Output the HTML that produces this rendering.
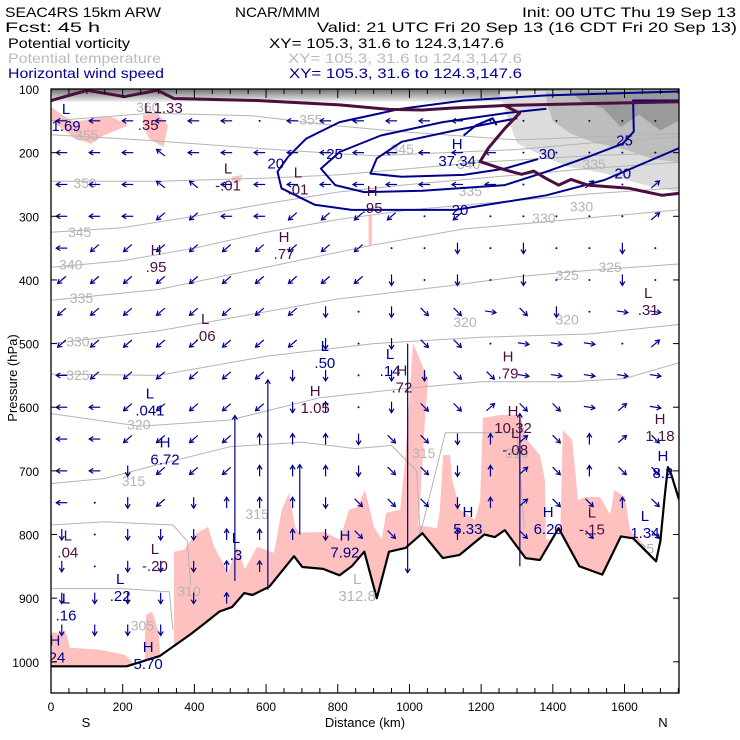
<!DOCTYPE html>
<html><head><meta charset="utf-8">
<style>
html,body{margin:0;padding:0;background:#fff;}
svg{display:block;font-family:"Liberation Sans",sans-serif;}
</style></head>
<body>
<svg id="chart" width="740" height="740" viewBox="0 0 740 740" xmlns="http://www.w3.org/2000/svg">
<rect x="0" y="0" width="740" height="740" fill="#fff"/>
<g font-size="14">
<text x="5" y="17" textLength="156" lengthAdjust="spacingAndGlyphs">SEAC4RS 15km ARW</text>
<text x="235" y="17" textLength="85" lengthAdjust="spacingAndGlyphs">NCAR/MMM</text>
<text x="522" y="17" textLength="214" lengthAdjust="spacingAndGlyphs">Init: 00 UTC Thu 19 Sep 13</text>
<text x="5" y="32" textLength="95" lengthAdjust="spacingAndGlyphs">Fcst:   45 h</text>
<text x="317" y="32" textLength="420" lengthAdjust="spacingAndGlyphs">Valid: 21 UTC Fri 20 Sep 13 (16 CDT Fri 20 Sep 13)</text>
<text x="8" y="48" textLength="122" lengthAdjust="spacingAndGlyphs">Potential vorticity</text>
<text x="269" y="48" textLength="235" lengthAdjust="spacingAndGlyphs">XY= 105.3, 31.6 to 124.3,147.6</text>
<text x="8" y="63" fill="#bbbbbb" textLength="153" lengthAdjust="spacingAndGlyphs">Potential temperature</text>
<text x="288" y="63" fill="#bbbbbb" textLength="234" lengthAdjust="spacingAndGlyphs">XY= 105.3, 31.6 to 124.3,147.6</text>
<text x="8" y="78" fill="#000090" textLength="156" lengthAdjust="spacingAndGlyphs">Horizontal wind speed</text>
<text x="289" y="78" fill="#000090" textLength="233" lengthAdjust="spacingAndGlyphs">XY= 105.3, 31.6 to 124.3,147.6</text>
</g>
<g id="plot"></g>
</svg>
<script>
// ---------- data ----------
const terrKm=[0,211,303,389,430,470,505,539,562,609,678,701,759,805,839,874,909,943,989,1036,1093,1140,1209,1238,1266,1324,1364,1416,1474,1538,1590,1624,1688,1700,1712,1721,1730,1752];
const terrP=[1007,1007,991,957,939,921,914,892,895,882,834,851,854,864,850,827,900,827,821,798,837,832,800,804,793,837,840,790,850,863,803,806,842,810,740,694,705,745];

const pinkLow1=[[0,954],[42,954],[53,978],[137,981],[206,989],[226,1000],[226,1049],[0,1049]];
const pinkLow2=[[262,965],[265,926],[282,921],[299,950],[304,981],[304,1049],[262,1049]];
const pinkLow3=[[343,965],[343,827],[371,824],[402,800],[438,788],[455,819],[494,860],[519,819],[541,855],[575,819],[622,829],[644,761],[664,735],[681,788],[692,797],[762,796],[806,808],[831,761],[854,757],[876,730],[901,788],[923,808],[935,766],[974,761],[988,683],[1010,499],[1035,533],[1052,557],[1043,620],[1030,746],[1024,785],[1077,790],[1085,761],[1094,675],[1113,675],[1119,714],[1141,761],[1183,777],[1197,746],[1205,617],[1253,612],[1309,612],[1328,651],[1364,675],[1378,714],[1381,808],[1420,808],[1428,636],[1454,651],[1462,698],[1470,746],[1490,741],[1532,741],[1560,769],[1571,730],[1601,741],[1615,793],[1643,808],[1671,832],[1699,871],[1699,1049],[343,1049]];
const pinkUp1=[[0,128],[32,141],[66,152],[135,144],[170,144],[216,157],[147,173],[112,186],[66,178],[26,160],[0,150]];
const pinkUp2=[[257,141],[297,138],[326,157],[314,191],[274,178],[257,157]];
const pinkUp3=[[886,298],[895,298],[895,345],[886,345]];
const pinkUp4=[[505,238],[534,235],[528,246],[505,246]];

const grayOuter=[[1250,104],[1752,100],[1752,262],[1650,250],[1540,232],[1440,222],[1370,205],[1300,185],[1270,140]];
const grayMid=[[1380,104],[1752,100],[1752,215],[1680,210],[1600,195],[1520,185],[1450,170],[1400,150],[1385,125]];
const grayDark=[[1450,104],[1752,100],[1752,150],[1700,165],[1640,140],[1590,160],[1540,130],[1480,120]];

const pvTop=[[0,118],[101,102],[205,112],[297,102],[343,115],[574,118],[805,125],[943,132],[1036,133],[1116,130],[1266,126],[1497,123],[1752,120]];
const pvBranch=[[1266,126],[1307,138],[1266,162],[1220,193],[1197,214],[1266,227],[1313,234],[1347,229],[1382,241],[1416,251],[1451,242],[1497,251],[1613,256],[1705,267],[1752,264]];

const wind20=[[1752,104],[1382,110],[1151,118],[978,131],[805,152],[712,178],[661,207],[632,230],[643,256],[736,282],[839,290],[1128,290],[1382,267],[1544,243],[1752,193]];
const wind25=[[1752,118],[1624,118],[1626,167],[1595,186],[1497,207],[1382,230],[1266,251],[1036,260],[874,262],[793,251],[753,225],[805,199],[920,173],[1093,152],[1266,138],[1382,131]];
const wind30=[[1359,210],[1266,225],[1151,235],[978,238],[891,233],[909,209],[978,183],[1128,165],[1243,152],[1301,146]];
const wind35=[[1151,173],[1186,157],[1232,146],[1243,157]];
const windLabels=[["20",627,217],["25",791,202],["30",1384,202],["25",1600,181],["20",1595,233],["20",1141,290]];

const thetaLevels=[360,355,350,345,340,335,330,325,320,315,310,305];
const thetaPaths=[
 [[0,150],[280,138],[560,142],[800,158],[1000,168],[1300,180],[1752,170]],
 [[0,172],[250,180],[500,190],[700,198],[900,205],[1100,200],[1300,195],[1500,185],[1752,175]],
 [[0,245],[300,245],[600,240],[800,235],[1000,225],[1200,215],[1500,205],[1752,200]],
 [[0,325],[200,318],[400,300],[600,280],[800,262],[1000,250],[1200,240],[1500,225],[1752,215]],
 [[0,380],[200,370],[400,350],[600,325],[800,305],[1000,290],[1200,280],[1500,265],[1752,255]],
 [[0,432],[300,415],[600,380],[900,345],[1150,320],[1350,310],[1550,300],[1752,290]],
 [[0,500],[300,480],[500,460],[800,430],[1100,410],[1300,395],[1500,385],[1752,375]],
 [[0,548],[300,550],[600,520],[900,500],[1200,490],[1500,485],[1752,470]],
 [[0,610],[250,630],[500,620],[750,585],[1000,570],[1200,560],[1450,560],[1600,555],[1752,530]],
 [[0,720],[150,712],[300,690],[500,662],[700,655],[850,665],[950,660],[1020,700],[1030,800],[1100,640],[1300,640],[1320,790]],
 [[0,785],[150,780],[340,785],[380,810],[390,880]],
 [[0,885],[200,885],[330,890],[340,950]]
];
const thetaLabels=[["360",270,128],["355",100,172],["350",95,248],["345",80,325],["340",55,376],["335",85,428],["330",75,497],["325",75,549],["320",245,627],["315",230,716],["310",385,889],["305",255,943],["355",725,148],["345",980,194],["340",1165,218],["335",1170,260],["335",1515,218],["330",1375,303],["330",1480,285],["325",1440,392],["325",1560,380],["320",1155,466],["320",1440,462],["315",1040,672],["315",1300,672],["315",575,768],["305",1650,822]];

const arrowKm=[30,122,214,306,398,490,582,674,766,858,950,1042,1134,1226,1318,1410,1502,1594,1686];
const arrowRowP=[150,200,250,300,350,400,450,500,550,600,650,700,750,800,850,900,950];
const arrowRows=[
 "aaaaaa.aaaaaa......",
 "aaahaaaaaaaaaa.....",
 "aaahhaaaaaaaaa..f.f",
 "aaabbaabbbb.b.....f",
 "abbbbbbbbb..c.c..c.",
 "bbbbbbbbbbc.c.c..c.",
 "bbbbbbbbc.cddedc.ee",
 "bbbbbbbbc.cdd.eee.f",
 "abbbbbbcc.ccddeeeee",
 "aabbbbbcg.cddfddefe",
 "aabbbbgggcddcgfdgfd",
 "aacbbbgggcddcgfdgdd",
 "a.cbcgggcdddcgfddgd",
 "c.cccgggcdddgfdddcd",
 "c.cccggggcdcgfdcdcd",
 "cccccgg............",
 "ccccc.............."
];
const longKm=[513,605,694,995,1308];
const longTopP=[613,557,690,500,610];
const longBotP=[873,887,800,860,850];
const longDir=["up","up","up","down","up"];

const hlLetter=["L","L","L","L","H","H","H","H","L","L","L","L","H","H","H","L","H","H","L","H","H","L","L","L","H","H","H","L","L","L","L","H","H","L"];
const hlValue=["1.69",".35","-.01",".01",".95",".77",".95","37.34",".31",".06",".50",".14",".72",".79","1.05",".041","6.72","10.32","-.08","1.18","8.2",".04","-.20",".3","7.92","5.33","6.20","-.15","1.34",".22",".16","5.70",".24","312.8"];
const hlKm=[42,271,494,689,896,650,293,1133,1666,430,764,946,979,1275,737,276,318,1289,1295,1699,1707,47,290,516,820,1163,1387,1509,1657,193,42,271,11,854];
const hlP=[130,128,223,230,259,331,351,185,419,460,502,515,541,519,573,577,654,604,639,617,675,800,821,804,800,763,763,764,769,868,899,975,965,868];
const hlColor=["n","p","p","p","p","p","p","n","p","p","n","n","p","p","p","n","n","p","p","p","n","p","p","n","n","n","n","p","n","n","n","n","n","g"];

const xTicks=[0,200,400,600,800,1000,1200,1400,1600];
const yTicks=[100,200,300,400,500,600,700,800,900,1000];

// ---------- scales ----------
const X0=51,X1=679,Y0=89,Y1=693;
const KMAX=1752,PMAX=1049;
function X(km){return X0+km*(X1-X0)/KMAX;}
function Y(p){return Y0+(p-100)*(Y1-Y0)/(PMAX-100);}
function terrainAt(km){for(let i=0;i<terrKm.length-1;i++){if(km>=terrKm[i]&&km<=terrKm[i+1]){const t=(km-terrKm[i])/(terrKm[i+1]-terrKm[i]);return terrP[i]+t*(terrP[i+1]-terrP[i]);}}return terrP[terrP.length-1];}

const NS="http://www.w3.org/2000/svg";
const plot=document.getElementById('plot');
function mk(tag,attrs,parent){const e=document.createElementNS(NS,tag);for(const k in attrs)e.setAttribute(k,attrs[k]);(parent||plot).appendChild(e);return e;}
function pts(arr){return arr.map(q=>X(q[0]).toFixed(1)+","+Y(q[1]).toFixed(1)).join(" ");}
function clipGroup(){return mk('g',{'clip-path':'url(#plotclip)'});}

const defs=mk('defs',{});
const cp=mk('clipPath',{id:'plotclip'},defs);
mk('rect',{x:X0,y:Y0,width:X1-X0,height:Y1-Y0},cp);
const lg=mk('linearGradient',{id:'topband',x1:0,y1:0,x2:0,y2:1},defs);
mk('stop',{offset:'0','stop-color':'#6e6e6e'},lg);
mk('stop',{offset:'0.5','stop-color':'#b0b0b0'},lg);
mk('stop',{offset:'1','stop-color':'#eeeeee'},lg);

const g=clipGroup();
// shading
let e=mk('rect',{x:X0,y:Y(100),width:X1-X0,height:Y(120)-Y(100),fill:'url(#topband)'},g);


[[grayOuter,'#dcdcdc'],[grayMid,'#bdbdbd'],[grayDark,'#9a9a9a']].forEach(a=>{
 const s=mk('polygon',{points:pts(a[0]),fill:a[1]},g);
 
 
});
// pink
[pinkLow1,pinkLow2,pinkLow3,pinkUp1,pinkUp2,pinkUp3,pinkUp4].forEach(a=>{
 const s=mk('polygon',{points:pts(a),fill:'#ffc0c0'},g);
 
 
});
// isentropes
thetaPaths.forEach((a,i)=>{
 const s=mk('polyline',{points:pts(a),fill:'none',stroke:'#b4b4b4','stroke-width':1},g);
 
 
});
thetaLabels.forEach(l=>{
 const t=mk('text',{x:X(l[1]),y:Y(l[2])+5,'font-size':14,fill:'#b4b4b4','text-anchor':'middle'},g);
 t.textContent=l[0];
 
 
});
// underground mask
const maskPts=terrKm.map((k,i)=>[k,terrP[i]]).concat([[KMAX,PMAX],[0,PMAX]]);
e=mk('polygon',{points:pts(maskPts),fill:'#fff'},g);



// arrows
const dirs={a:[-1,0],b:[-0.75,0.65],c:[0,1],d:[0.7,0.7],e:[1,0.15],f:[0.75,-0.65],g:[0,-1],h:[-0.75,-0.6]};
const ag=mk('g',{stroke:'#000090',fill:'none','stroke-width':1.2},g);


function arrow(x1,y1,x2,y2){
 const l=mk('line',{x1:x1,y1:y1,x2:x2,y2:y2},ag);
 
 
 const dx=x2-x1,dy=y2-y1,L=Math.hypot(dx,dy)||1,ux=dx/L,uy=dy/L;
 const hx=x2-ux*4,hy=y2-uy*4;
 mk('polyline',{points:(hx-uy*2.5)+","+(hy+ux*2.5)+" "+x2+","+y2+" "+(hx+uy*2.5)+","+(hy-ux*2.5)},ag);
}
arrowRows.forEach((row,r)=>{
 const p=arrowRowP[r];
 for(let i=0;i<row.length;i++){
  const c=row[i],km=arrowKm[i];
  if(p>terrainAt(km)-10)continue;
  const cx=X(km),cy=Y(p);
  if(c==='.'){const d=mk('circle',{cx:cx,cy:cy,r:1,fill:'#000090',stroke:'none'},ag);continue;}
  const v=dirs[c],len=11;
  arrow(cx-v[0]*len/2,cy-v[1]*len/2,cx+v[0]*len/2,cy+v[1]*len/2);
 }
});
longKm.forEach((k,i)=>{
 const x=X(k),yt=Y(longTopP[i]),yb=Y(longBotP[i]);
 if(longDir[i]==='up')arrow(x,yb,x,yt);else arrow(x,yt,x,yb);
});

// wind contours
[wind20,wind25,wind30,wind35].forEach((a,i)=>{
 const s=mk('polyline',{points:pts(a),fill:'none',stroke:'#000090','stroke-width':2,'stroke-linejoin':'round'},g);
 
 
});
windLabels.forEach(l=>{
 const t=mk('text',{x:X(l[1]),y:Y(l[2])+5,'font-size':15,fill:'#000090','text-anchor':'middle'},g);
 t.textContent=l[0];
 
 
});
// PV lines
[pvTop,pvBranch].forEach(a=>{
 const s=mk('polyline',{points:pts(a),fill:'none',stroke:'#4a0f40','stroke-width':3,'stroke-linejoin':'round'},g);
 
 
});
// terrain line
e=mk('polyline',{points:pts(terrKm.map((k,i)=>[k,terrP[i]])),fill:'none',stroke:'#000','stroke-width':2.2,'stroke-linejoin':'round'},g);



// H/L labels
const cols={n:'#000090',p:'#4a0f40',g:'#b4b4b4'};
hlLetter.forEach((L,i)=>{
 const x=X(hlKm[i]),y=Y(hlP[i]);
 const t1=mk('text',{x:x,y:y+6,'font-size':15,fill:cols[hlColor[i]],'text-anchor':'middle'},g);
 t1.textContent=L;
 
 
 const t2=mk('text',{x:x,y:y+23,'font-size':15,fill:cols[hlColor[i]],'text-anchor':'middle'},g);
 t2.textContent=hlValue[i];
 
 
});
e=mk('text',{x:X(271)+20,y:Y(128)+6,'font-size':15,fill:'#4a0f40','text-anchor':'middle'},g);
e.textContent='1.33';



// frame + ticks
e=mk('rect',{x:X0,y:Y0,width:X1-X0,height:Y1-Y0,fill:'none',stroke:'#000','stroke-width':1.3});


const tg=mk('g',{stroke:'#000','stroke-width':1});
for(let k=0;k<=KMAX;k+=50){
 const x=X(k),len=(k%200===0)?9:5;
 mk('line',{x1:x,y1:Y1,x2:x,y2:Y1-len},tg);
 mk('line',{x1:x,y1:Y0,x2:x,y2:Y0+len},tg);
}
yTicks.forEach(p=>{
 mk('line',{x1:X0,y1:Y(p),x2:X0+6,y2:Y(p)},tg);
 mk('line',{x1:X1,y1:Y(p),x2:X1-6,y2:Y(p)},tg);
 const t=mk('text',{x:39,y:Y(p)+5,'font-size':12,'text-anchor':'end'});
 t.textContent=p;
 
 
});
xTicks.forEach(k=>{
 const t=mk('text',{x:X(k),y:711,'font-size':12,'text-anchor':'middle'});
 t.textContent=k;
 
 
});
e=mk('text',{x:365,y:727,'font-size':13,'text-anchor':'middle'});
e.textContent='Distance (km)';


e=mk('text',{x:86,y:727,'font-size':13,'text-anchor':'middle'});
e.textContent='S';


e=mk('text',{x:663,y:727,'font-size':13,'text-anchor':'middle'});
e.textContent='N';


e=mk('text',{x:0,y:0,'font-size':13,'text-anchor':'middle',transform:'translate(17,378) rotate(-90)'});
e.textContent='Pressure (hPa)';


</script>
</body></html>
